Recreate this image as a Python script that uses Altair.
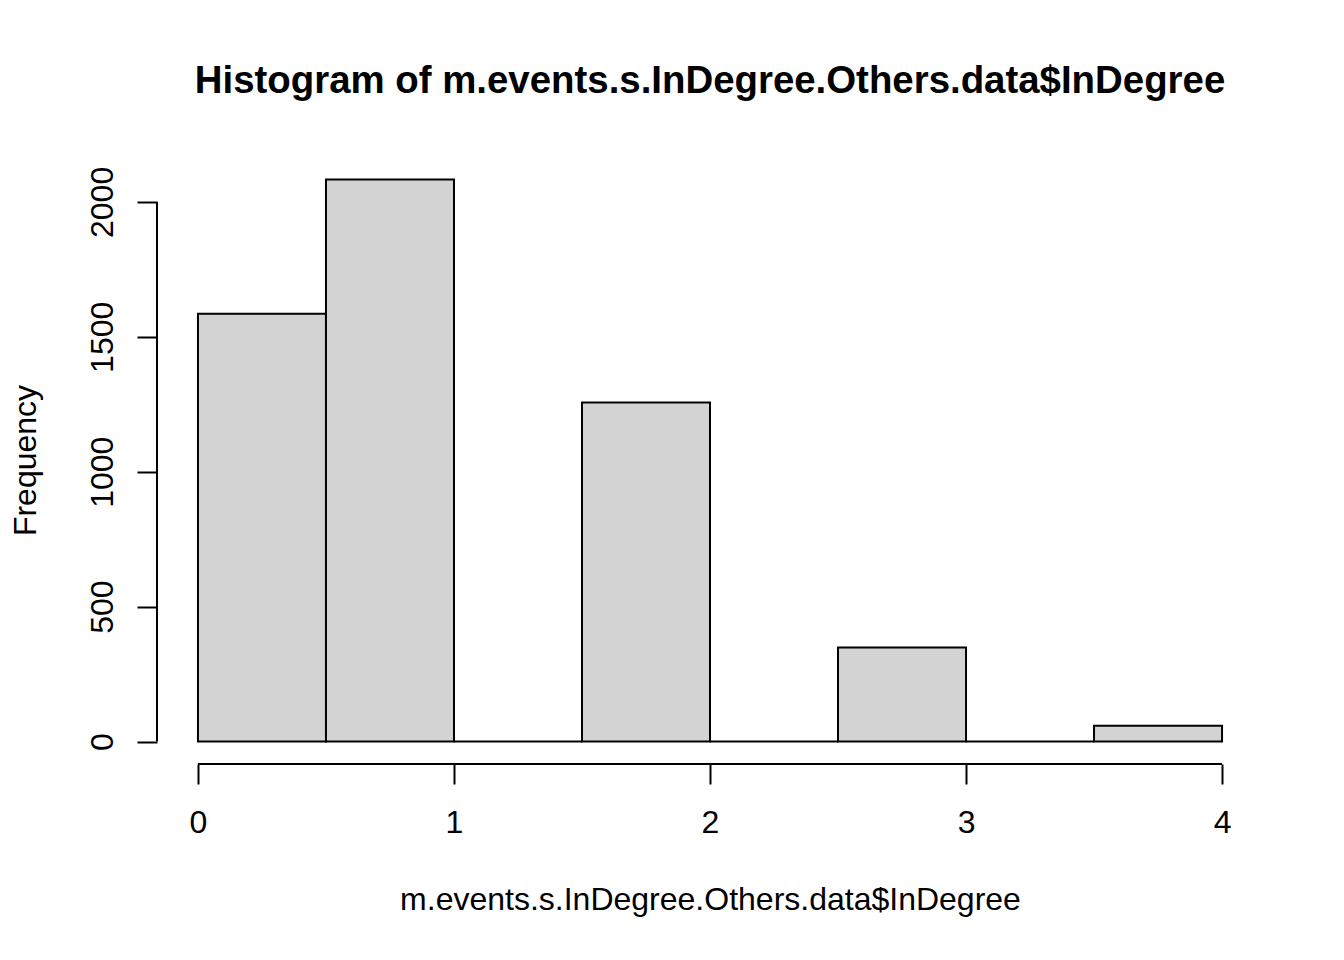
import altair as alt
import pandas as pd

bin_start = [0.0, 0.5, 1.0, 1.5, 2.0, 2.5, 3.0, 3.5]
bin_end = [0.5, 1.0, 1.5, 2.0, 2.5, 3.0, 3.5, 4.0]
counts = [1585, 2083, 0, 1256, 0, 348, 0, 58]
x_ticks = [0, 1, 2, 3, 4]
y_ticks = [0, 500, 1000, 1500, 2000]

title = "Histogram of m.events.s.InDegree.Others.data$InDegree"
x_title = "m.events.s.InDegree.Others.data$InDegree"
y_title = "Frequency"

FONT = "Liberation Sans"

xmin, xmax = min(bin_start), max(bin_end)
ymax = max(counts)
xpad = 0.04 * (xmax - xmin)
ypad = 0.04 * ymax
xdom = [xmin - xpad, xmax + xpad]
ydom = [-ypad, ymax + ypad]

df = pd.DataFrame({"start": bin_start, "end": bin_end, "count": counts})

xscale = alt.Scale(domain=xdom, nice=False, zero=False)
yscale = alt.Scale(domain=ydom, nice=False, zero=False)

bars = alt.Chart(df).mark_rect(
    fill="#D3D3D3", stroke="black", strokeWidth=2
).encode(
    x=alt.X("start:Q", scale=xscale, axis=alt.Axis(
        values=x_ticks, format="d", domain=False, grid=False, tickSize=20, tickWidth=2,
        tickColor="black", labelFont=FONT, labelFontSize=32, labelColor="black",
        labelPadding=48, labelBaseline="alphabetic", labelAngle=0,
        labelFlush=False, labelOverlap=False,
        title=x_title, titleFont=FONT, titleFontSize=32, titleFontWeight="normal",
        titleColor="black", titleX=553, titleY=145, titleAlign="center",
        titleBaseline="alphabetic")),
    x2="end:Q",
    y=alt.Y("count:Q", scale=yscale, axis=alt.Axis(
        values=y_ticks, format="d", domain=False, grid=False, tickSize=20, tickWidth=2,
        tickColor="black", labelFont=FONT, labelFontSize=32, labelColor="black",
        labelAngle=270, labelAlign="center", labelBaseline="alphabetic",
        labelPadding=25, labelFlush=False, labelOverlap=False,
        title=y_title, titleFont=FONT, titleFontSize=32, titleFontWeight="normal",
        titleColor="black", titleAngle=270, titleX=-122, titleY=303,
        titleAlign="center", titleBaseline="alphabetic")),
    y2=alt.datum(0),
)

xaxis_df = pd.DataFrame({"a": [min(x_ticks)], "b": [max(x_ticks)], "y": [ydom[0]]})
xaxis_line = alt.Chart(xaxis_df).mark_rule(color="black", strokeWidth=2).encode(
    x=alt.X("a:Q", scale=xscale), x2="b:Q", y=alt.Y("y:Q", scale=yscale)
)

yaxis_df = pd.DataFrame({"a": [min(y_ticks)], "b": [max(y_ticks)], "x": [xdom[0]]})
yaxis_line = alt.Chart(yaxis_df).mark_rule(color="black", strokeWidth=2).encode(
    y=alt.Y("a:Q", scale=yscale), y2="b:Q", x=alt.X("x:Q", scale=xscale)
)

chart = alt.layer(bars, xaxis_line, yaxis_line).properties(
    width=1106,
    height=607,
    title=alt.TitleParams(
        text=title, font=FONT, fontSize=38.4, fontWeight="bold", color="black",
        anchor="middle", frame="group", baseline="alphabetic", offset=26,
    ),
    autosize=alt.AutoSizeParams(type="none"),
    padding={"left": 149, "top": 149, "right": 73, "bottom": 188},
).configure(background="white").configure_view(strokeWidth=0, stroke=None)

chart.save("out.html", embed_options={"renderer": "svg", "actions": False})
